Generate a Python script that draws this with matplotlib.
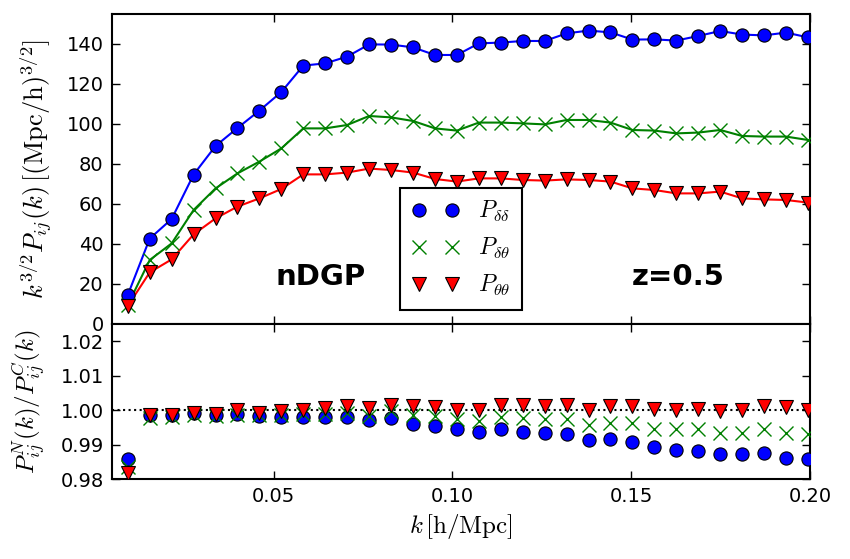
import numpy as np
import matplotlib
matplotlib.use("Agg")
import matplotlib.pyplot as plt

plt.rcParams['mathtext.fontset'] = 'cm'
plt.rcParams['font.family'] = ['DejaVu Sans']

dk = 2 * np.pi / 1024
k = (np.arange(1, 33) + 0.5) * dk

P_dd = [14.5, 42.7, 52.5, 74.7, 89.0, 98.0, 106.7, 116.0, 129.2, 130.3, 133.7, 139.8,
        139.7, 138.3, 134.5, 134.5, 140.3, 140.7, 141.5, 141.5, 145.3, 146.7, 145.8, 142.2,
        142.3, 141.7, 144.0, 146.5, 144.7, 144.3, 145.7, 143.3]
P_dt = [9.5, 32.0, 40.3, 57.0, 67.8, 75.3, 81.2, 87.8, 97.8, 97.8, 99.5, 104.0,
        103.3, 101.5, 97.8, 96.7, 100.7, 100.7, 100.3, 99.8, 102.0, 102.0, 100.7, 97.0,
        96.7, 95.3, 95.7, 97.0, 94.0, 93.7, 93.7, 92.0]
P_tt = [9.0, 25.8, 32.3, 44.8, 52.8, 58.7, 62.8, 67.5, 74.8, 74.8, 75.7, 77.7,
        77.0, 75.7, 72.5, 71.2, 72.8, 72.8, 72.0, 71.7, 72.3, 72.0, 71.2, 67.8,
        67.0, 65.3, 65.3, 66.2, 62.8, 62.3, 62.0, 60.7]

R_dd = [0.9859, 0.99846, 0.99846, 0.99923, 0.99855, 0.9990, 0.99827, 0.99807, 0.99807, 0.99807,
        0.99807, 0.9970, 0.9976, 0.99586, 0.99538, 0.99441, 0.99364, 0.9946, 0.99364, 0.99345,
        0.99297, 0.99133, 0.99152, 0.99085, 0.9894, 0.98844, 0.98815, 0.98738, 0.98719, 0.98748,
        0.98622, 0.98574]
R_dt = [0.9835, 0.9978, 0.9980, 0.9987, 0.9983, 0.9987, 0.9987, 0.9987, 0.9990, 0.9990,
        0.9992, 0.9983, 0.9997, 0.9985, 0.9983, 0.9975, 0.9968, 0.9981, 0.9978, 0.9975,
        0.9973, 0.99557, 0.99615, 0.99615, 0.9946, 0.99441, 0.99441, 0.99345, 0.99326, 0.99441,
        0.99345, 0.99297]
R_tt = [0.9816, 0.99846, 0.99855, 0.9993, 0.9990, 0.9999, 0.9993, 0.9996, 1.0001, 1.0005,
        1.0011, 1.0005, 1.0015, 1.0011, 1.0008, 1.0001, 1.0000, 1.0015, 1.0015, 1.0013,
        1.0015, 1.0000, 1.0013, 1.0013, 1.0002, 1.0000, 1.0002, 0.9997, 1.0000, 1.0013,
        1.0010, 1.0000]

labels = [r'$P_{\delta\delta}$', r'$P_{\delta\theta}$', r'$P_{\theta\theta}$']
xticks = [0.05, 0.10, 0.15, 0.20]
yticks_top = [0, 20, 40, 60, 80, 100, 120, 140]
yticks_bot = [0.98, 0.99, 1.00, 1.01, 1.02]

blue = (0, 0, 1)
green = (0, 0.5, 0)
red = (1, 0, 0)

fig = plt.figure(figsize=(8.5, 5.59), dpi=100)
ax1 = fig.add_axes([0.1318, 0.4204, 0.8212, 0.5546])
ax2 = fig.add_axes([0.1318, 0.1431, 0.8212, 0.2773], sharex=ax1)

ax1.plot(k, P_dd, '-', color=blue, lw=1.5, zorder=2)
ax1.plot(k, P_dt, '-', color=green, lw=1.5, zorder=2)
ax1.plot(k, P_tt, '-', color=red, lw=1.5, zorder=2)
h1, = ax1.plot(k, P_dd, 'o', color=blue, mec='k', mew=0.8, ms=9.5, ls='none', label=labels[0], zorder=3)
h2, = ax1.plot(k, P_dt, 'x', color=green, mew=1.0, ms=9.5, ls='none', label=labels[1], zorder=3)
h3, = ax1.plot(k, P_tt, 'v', color=red, mec='k', mew=0.8, ms=9.5, ls='none', label=labels[2], zorder=3)

leg = ax1.legend(handles=[h1, h2, h3], loc='lower center', numpoints=2, fontsize=17,
                 fancybox=False, framealpha=1, edgecolor='k', borderaxespad=0.6,
                 handlelength=2.0, labelspacing=0.5, handletextpad=0.8, borderpad=0.5)
leg.get_frame().set_linewidth(1.5)

ax1.text(0.0506, 19.5, 'nDGP', fontsize=21, fontweight='bold', ha='left', va='baseline')
ax1.text(0.1502, 19.5, 'z=0.5', fontsize=21, fontweight='bold', ha='left', va='baseline')

ax2.axhline(1.0, color='k', ls=':', lw=1.5, zorder=1)
ax2.plot(k, R_dd, 'o', color=blue, mec='k', mew=0.8, ms=9.5, ls='none', zorder=3)
ax2.plot(k, R_dt, 'x', color=green, mew=1.0, ms=9.5, ls='none', zorder=4)
ax2.plot(k, R_tt, 'v', color=red, mec='k', mew=0.8, ms=9.5, ls='none', zorder=5)

ax1.set_xlim(0.0048, 0.20)
ax1.set_ylim(0, 155)
ax2.set_ylim(0.98, 1.025)
ax1.set_yticks(yticks_top)
ax2.set_yticks(yticks_bot)
ax2.set_xticks(xticks)
ax2.set_xticklabels(['%.2f' % t for t in xticks])
ax2.set_yticklabels(['%.2f' % t for t in yticks_bot])
plt.setp(ax1.get_xticklabels(), visible=False)

for ax in (ax1, ax2):
    ax.tick_params(direction='in', top=True, right=True, labelsize=14, length=6, width=1, pad=6)
    for s in ax.spines.values():
        s.set_linewidth(1.5)

ax1.set_ylabel(r'$k^{3/2}P_{ij}(k)\,[(\mathrm{Mpc/h})^{3/2}]$', fontsize=19)
ax2.set_ylabel(r'$P^N_{ij}(k)/P^C_{ij}(k)$', fontsize=18)
ax2.set_xlabel(r'$k\,[\mathrm{h/Mpc}]$', fontsize=18)
ax1.yaxis.set_label_coords(-0.082, 0.5)
ax2.yaxis.set_label_coords(-0.092, 0.5)

fig.savefig('out.png', dpi=100, facecolor='white')
